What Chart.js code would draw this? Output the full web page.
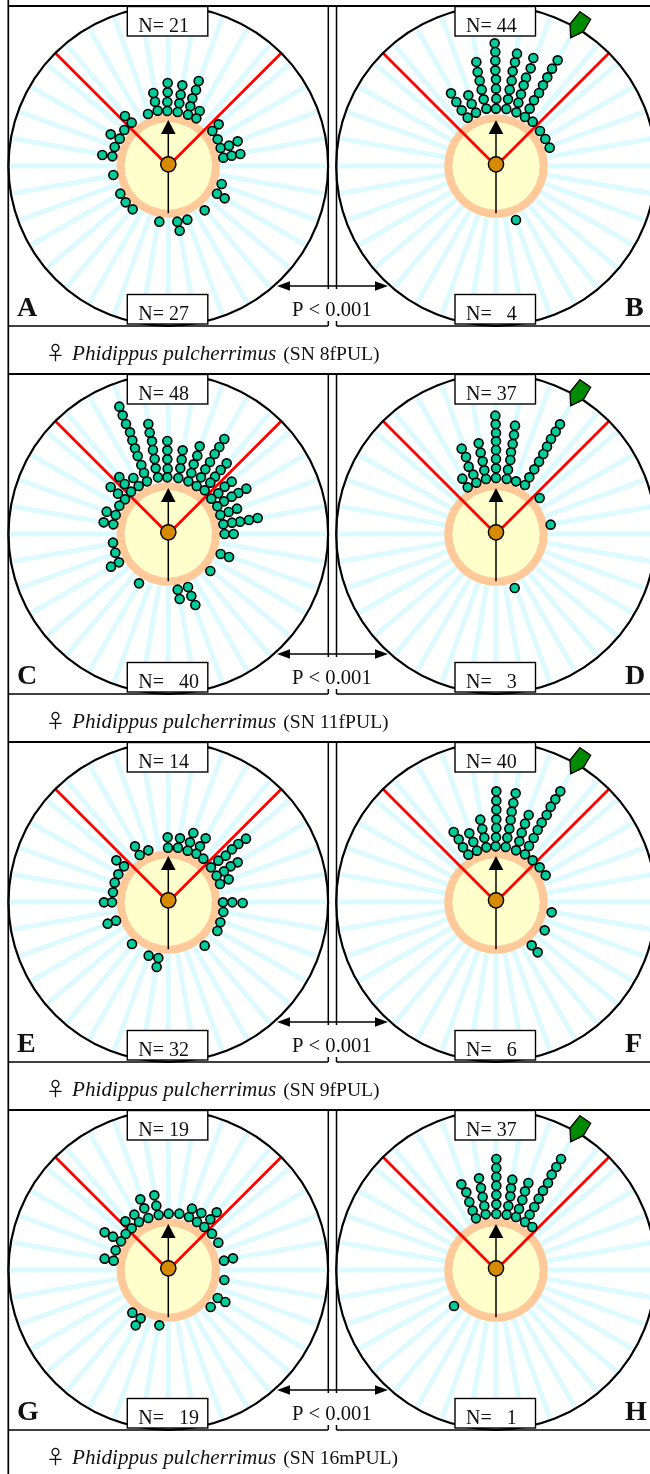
<!DOCTYPE html>
<html>
<head>
<meta charset="utf-8">
<title>Phidippus pulcherrimus</title>
<script src="https://cdn.jsdelivr.net/npm/chart.js@4/dist/chart.umd.min.js"></script>
<style>
  html, body { margin: 0; padding: 0; background: #fff; }
  canvas { display: block; }
</style>
</head>
<body>
<canvas id="chart" width="650" height="1474"></canvas>
<script>
const dotsA = [[503,249],[503,277],[502,306],[502,333],[473,332],[444,342],[465,305],[460,279],[547,256],[542,284],[538,310],[533,336],[596,243],[588,270],[577,295],[571,319],[564,344],[599,333],[589,355],[375,348],[395,368],[373,390],[332,403],[359,416],[344,441],[307,465],[337,469],[656,373],[637,393],[653,418],[662,444],[670,473],[687,437],[713,424],[695,467],[721,462],[340,525],[361,581],[377,607],[398,628],[478,665],[532,665],[562,659],[539,692],[614,631],[665,552],[651,581],[674,595]];
const dotsB = [[509,130],[511,156],[511,182],[511,211],[513,238],[513,266],[514,296],[513,326],[454,186],[458,216],[464,242],[470,269],[476,298],[484,326],[378,280],[394,306],[410,331],[428,353],[430,286],[440,312],[453,338],[576,161],[570,187],[563,214],[560,242],[554,269],[549,298],[544,327],[625,174],[617,205],[603,233],[596,256],[588,283],[580,308],[574,337],[698,181],[681,206],[667,232],[654,256],[642,279],[627,301],[614,326],[600,351],[623,365],[645,393],[661,417],[674,443],[573,660]];
const dotsC = [[358,110],[368,136],[378,162],[390,187],[397,211],[405,235],[413,258],[424,285],[432,309],[441,334],[445,162],[449,188],[456,214],[459,240],[464,267],[467,295],[474,322],[502,213],[502,241],[502,268],[503,296],[502,322],[548,241],[545,269],[541,295],[535,324],[599,229],[592,257],[581,283],[574,309],[565,334],[673,207],[658,231],[644,252],[630,276],[616,298],[603,322],[590,348],[614,361],[680,280],[662,300],[645,320],[631,338],[695,335],[674,350],[655,370],[634,386],[739,356],[715,369],[695,380],[672,394],[652,409],[711,416],[686,426],[661,435],[773,444],[747,450],[720,455],[696,458],[670,463],[701,492],[674,492],[662,552],[687,561],[631,603],[358,321],[400,324],[374,342],[416,348],[332,351],[354,371],[393,365],[375,388],[358,407],[320,425],[347,435],[311,457],[340,463],[339,518],[346,548],[357,577],[333,590],[417,640],[533,659],[564,651],[539,687],[574,678],[586,705]];
const dotsD = [[511,137],[512,163],[513,189],[513,214],[513,240],[513,267],[513,295],[513,324],[461,220],[467,248],[473,274],[478,301],[483,327],[410,236],[423,261],[431,290],[445,314],[454,338],[412,326],[428,352],[570,167],[567,195],[563,222],[558,247],[556,270],[549,299],[545,327],[573,334],[600,345],[705,163],[692,185],[678,207],[666,230],[655,252],[642,275],[628,298],[613,322],[644,384],[677,464],[569,654]];
const dotsE = [[503,292],[540,295],[580,279],[617,295],[570,307],[504,323],[534,323],[563,332],[600,319],[589,341],[610,356],[405,319],[445,331],[419,345],[349,361],[372,379],[355,403],[344,428],[339,457],[312,487],[336,487],[348,542],[323,551],[396,612],[446,647],[475,654],[470,681],[614,617],[738,296],[715,312],[696,328],[677,347],[655,362],[633,382],[713,367],[692,379],[672,394],[650,407],[686,418],[660,432],[669,487],[697,487],[728,489],[670,516],[661,547],[652,573]];
const dotsF = [[514,154],[514,182],[514,209],[514,238],[514,264],[513,292],[512,319],[572,160],[565,189],[560,215],[557,240],[553,266],[547,293],[542,321],[466,239],[472,267],[478,293],[484,322],[611,225],[600,251],[590,278],[583,304],[573,331],[706,154],[691,178],[677,200],[665,225],[650,248],[638,270],[626,294],[612,318],[600,343],[623,361],[644,382],[662,406],[386,276],[401,298],[414,322],[430,344],[433,280],[445,306],[456,332],[680,517],[659,571],[620,616],[638,637]];
const dotsG = [[463,274],[469,305],[476,333],[421,286],[433,313],[445,342],[403,332],[417,354],[376,352],[395,373],[377,390],[363,412],[339,398],[314,385],[347,439],[341,470],[314,464],[506,329],[538,329],[567,339],[576,314],[604,327],[591,354],[613,369],[631,346],[650,325],[636,389],[655,416],[672,470],[699,463],[673,528],[653,582],[676,594],[632,609],[397,626],[422,643],[407,664],[478,664]];
const dotsH = [[514,165],[514,192],[514,219],[514,245],[514,273],[514,301],[514,330],[462,223],[468,252],[473,279],[478,306],[482,331],[409,241],[424,265],[433,294],[443,320],[453,343],[562,227],[558,253],[556,277],[550,306],[545,332],[610,237],[600,262],[592,288],[582,315],[573,339],[708,165],[694,189],[680,212],[669,237],[654,260],[641,284],[628,309],[614,332],[600,354],[622,369],[387,606]];

const panelLetters = ["A", "B", "C", "D", "E", "F", "G", "H"];
const topCounts = ["N= 21", "N= 44", "N= 48", "N= 37", "N= 14", "N= 40", "N= 19", "N= 37"];
const bottomCounts = ["N= 27", "N=   4", "N=   40", "N=   3", "N= 32", "N=   6", "N=   19", "N=   1"];
const specimens = ["(SN 8fPUL)", "(SN 11fPUL)", "(SN 9fPUL)", "(SN 16mPUL)"];
const pValues = ["P < 0.001", "P < 0.001", "P < 0.001", "P < 0.001"];
const spokeAngles = [0,10,20,30,40,50,60,70,80,90,100,110,120,130,140,150,160,170,180,190,200,210,220,230,240,250,260,270,280,290,300,310,320,330,340,350];
const rayAngles = [45, 135];

const allDots = [dotsA, dotsB, dotsC, dotsD, dotsE, dotsF, dotsG, dotsH];
const columnX = [168.3, 496];
const rowY = [166, 534, 902, 1270];
const cropX = [0, 325];
const cropY = [0, 370, 740, 1104];
const serif = '"Liberation Serif", serif';

// one entry per panel, left to right then top to bottom
const panels = panelLetters.map((letter, i) => {
  const col = i % 2;
  const row = Math.floor(i / 2);
  return {
    letter, col, row,
    cx: columnX[col],
    cy: rowY[row],
    dots: allDots[i].map(d => ({ x: cropX[col] + d[0] / 3, y: cropY[row] + d[1] / 3 }))
  };
});

function polar(p, angle, r) {
  const a = angle * Math.PI / 180;
  return { x: p.cx + r * Math.cos(a), y: p.cy - r * Math.sin(a) };
}

// angles -> segments from the centre, broken by null points
function raySegments(p, angles, r) {
  const out = [];
  angles.forEach(a => {
    out.push({ x: p.cx, y: p.cy }, polar(p, a, r), { x: p.cx, y: null });
  });
  return out;
}

const lineSet = (data, color, width) => ({
  data, showLine: true, borderColor: color, borderWidth: width, pointRadius: 0, fill: false, spanGaps: false
});
const discSet = (p, radius, fill, edge, edgeWidth) => ({
  data: [{ x: p.cx, y: p.cy }], showLine: false, pointRadius: radius,
  backgroundColor: fill, borderColor: edge, borderWidth: edgeWidth
});

const datasets = [];
panels.forEach(p => datasets.push(lineSet(raySegments(p, spokeAngles, 158), "#dcfaff", 5)));
panels.forEach(p => {
  datasets.push(discSet(p, 51.7, "#ffc999", "#ffc999", 0));
  datasets.push(discSet(p, 43.7, "#ffffcc", "#ffffcc", 0));
  datasets.push(lineSet(raySegments(p, rayAngles, 159.5), "#ff0000", 2.8));
  datasets.push(lineSet([{ x: p.cx, y: p.cy + 47.3 }, { x: p.cx, y: p.cy - 36 }], "#000", 1.5));
  datasets.push(Object.assign(discSet(p, 7.6, "#d68a00", "#000", 1.5), { data: [{ x: p.cx, y: p.cy - 1.7 }] }));
  datasets.push(discSet(p, 159.8, "rgba(0,0,0,0)", "#000", 2.2));
});
panels.forEach(p => datasets.push({
  data: p.dots, showLine: false, pointRadius: 4.5,
  backgroundColor: "#00cc99", borderColor: "#000", borderWidth: 1.6
}));
// later entries on top
datasets.forEach((d, i) => { d.order = -i; });

const overlayPlugin = {
  id: "overlay",
  afterDatasetsDraw(chart) {
    const ctx = chart.ctx;
    const sx = v => chart.scales.x.getPixelForValue(v);
    const sy = v => chart.scales.y.getPixelForValue(v);

    function seg(x1, y1, x2, y2, w) {
      ctx.strokeStyle = "#000";
      ctx.lineWidth = w || 1.5;
      ctx.beginPath();
      ctx.moveTo(sx(x1), sy(y1));
      ctx.lineTo(sx(x2), sy(y2));
      ctx.stroke();
    }
    function poly(points, fill, edge) {
      ctx.beginPath();
      points.forEach((pt, i) => {
        if (i === 0) ctx.moveTo(sx(pt[0]), sy(pt[1]));
        else ctx.lineTo(sx(pt[0]), sy(pt[1]));
      });
      ctx.closePath();
      ctx.fillStyle = fill;
      ctx.fill();
      if (edge) {
        ctx.strokeStyle = edge;
        ctx.lineWidth = 1.3;
        ctx.stroke();
      }
    }
    function text(str, x, y, font, align) {
      ctx.font = font;
      ctx.textAlign = align || "left";
      ctx.textBaseline = "alphabetic";
      ctx.fillStyle = "#111";
      ctx.fillText(str, sx(x), sy(y));
      return ctx.measureText(str).width;
    }
    function box(x, y, w, h) {
      ctx.fillStyle = "#fff";
      ctx.fillRect(sx(x), sy(y), w, h);
      ctx.strokeStyle = "#000";
      ctx.lineWidth = 1.4;
      ctx.strokeRect(sx(x), sy(y), w, h);
    }

    ctx.save();
    // frame of each row and the caption strip
    seg(8.3, 0, 8.3, 1474, 1.7);
    rowY.forEach((cy, r) => {
      seg(8, cy - 160, 650, cy - 160, 2);
      seg(8, cy + 160, 328, cy + 160);
      seg(336.5, cy + 160, 650, cy + 160);
      seg(328.3, cy - 160, 328.3, cy + 160);
      seg(336.5, cy - 160, 336.5, cy + 160);

      ctx.fillStyle = "#fff";
      ctx.fillRect(sx(286), sy(cy + 123), 92, 32);
      seg(283, cy + 120, 382, cy + 120, 1.4);
      poly([[277, cy + 120], [290, cy + 115.3], [290, cy + 124.7]], "#000");
      poly([[388, cy + 120], [375, cy + 115.3], [375, cy + 124.7]], "#000");
      text(pValues[r], 292, cy + 150, "20.6px " + serif);

      text("\u2640", 46, cy + 194, '19px "Noto Sans CJK SC"');
      const italic = text("Phidippus pulcherrimus", 72, cy + 194, "italic 21.2px " + serif);
      text(specimens[r], 72 + italic + 7, cy + 194, "19.6px " + serif);
    });

    panels.forEach((p, i) => {
      box(p.cx - 41, p.cy - 159.5, 80.5, 29.5);
      box(p.cx - 41, p.cy + 128.5, 80.5, 29.5);
      text(topCounts[i], p.cx - 30, p.cy - 134, "20px " + serif);
      text(bottomCounts[i], p.cx - 30, p.cy + 154, "20px " + serif);
      // heading arrow
      poly([[p.cx, p.cy - 46], [p.cx - 7.3, p.cy - 32], [p.cx + 7.3, p.cy - 32]], "#000");
      // green marker on the right column rim
      if (p.col === 1) {
        const g = [[580, 11.7], [590.7, 19.3], [583.3, 31.7], [570.7, 37.7], [570, 24]];
        poly(g.map(pt => [pt[0], pt[1] + p.cy - 166]), "#008a00", "#000");
      }
      const lx = p.col === 0 ? 17 : 625;
      text(p.letter, lx, p.cy + 150, "bold 28px " + serif);
    });
    ctx.restore();
  }
};

new Chart(document.getElementById("chart"), {
  type: "scatter",
  data: { datasets },
  plugins: [overlayPlugin],
  options: {
    responsive: false,
    animation: false,
    events: [],
    layout: { padding: 0, autoPadding: false },
    plugins: { legend: { display: false }, tooltip: { enabled: false } },
    scales: {
      x: { type: "linear", min: 0, max: 650, display: false },
      y: { type: "linear", min: 0, max: 1474, reverse: true, display: false }
    }
  }
});
</script>
</body>
</html>
